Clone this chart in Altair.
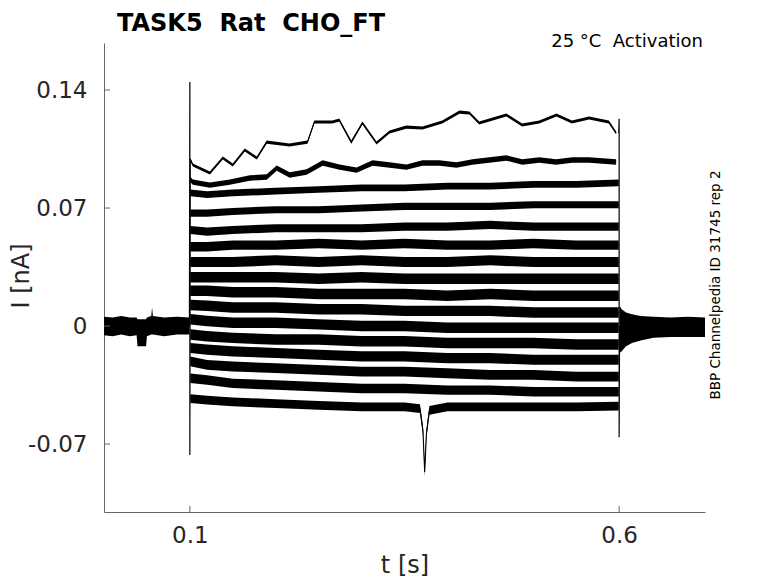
import altair as alt
import pandas as pd

# ---------------- data ----------------
X_TICKS = [0.1, 0.6]
Y_TICKS = [-0.07, 0.0, 0.07, 0.14]
X_DOMAIN = [0.0, 0.7]
Y_DOMAIN = [-0.1103, 0.1679]

# trace 1 (largest step), read point by point
T1 = [0.1005, 0.1035, 0.1233, 0.1384, 0.150, 0.164, 0.178, 0.1895, 0.216, 0.237, 0.245,
      0.266, 0.274, 0.288, 0.301, 0.3174, 0.3326, 0.352, 0.371, 0.394, 0.414, 0.4256,
      0.437, 0.4686, 0.487, 0.507, 0.527, 0.545, 0.565, 0.588, 0.5965]
V1 = [0.0990, 0.0955, 0.0908, 0.0997, 0.0955, 0.1044, 0.0997, 0.1091, 0.1074, 0.1091, 0.1210,
      0.1210, 0.1222, 0.1091, 0.1204, 0.1086, 0.1151, 0.1180, 0.1175, 0.1210, 0.1269, 0.1264,
      0.1204, 0.1252, 0.1192, 0.1210, 0.1252, 0.1210, 0.1234, 0.1210, 0.1145]

# trace 2
T2 = [0.1005, 0.1035, 0.1233, 0.1465, 0.1698, 0.1895, 0.2012, 0.2163, 0.2360, 0.2547, 0.2744,
      0.2942, 0.3128, 0.3326, 0.3523, 0.3709, 0.3907, 0.4105, 0.4291, 0.4488, 0.4686, 0.4872,
      0.5070, 0.5267, 0.5453, 0.5651, 0.5965]
V2 = [0.0870, 0.0854, 0.0836, 0.0854, 0.0878, 0.0884, 0.0937, 0.0896, 0.0914, 0.0967, 0.0943,
      0.0925, 0.0967, 0.0955, 0.0943, 0.0967, 0.0967, 0.0955, 0.0973, 0.0985, 0.0997, 0.0973,
      0.0985, 0.0973, 0.0985, 0.0985, 0.0973]

# traces 3..15 on a common time grid
T_STEP = [0.1005, 0.12, 0.15, 0.2, 0.25, 0.3, 0.35, 0.4, 0.45, 0.5, 0.55, 0.5995]
TRACE3 = [0.079, 0.078, 0.079, 0.080, 0.081, 0.082, 0.082, 0.083, 0.083, 0.084, 0.084, 0.085]
TRACE4 = [0.067, 0.067, 0.068, 0.069, 0.069, 0.070, 0.071, 0.071, 0.071, 0.072, 0.072, 0.072]
TRACE5 = [0.057, 0.056, 0.057, 0.058, 0.058, 0.058, 0.059, 0.059, 0.060, 0.059, 0.059, 0.059]
TRACE6 = [0.047, 0.047, 0.048, 0.048, 0.049, 0.048, 0.049, 0.048, 0.048, 0.049, 0.048, 0.048]
TRACE7 = [0.038, 0.038, 0.038, 0.039, 0.038, 0.039, 0.038, 0.038, 0.039, 0.038, 0.038, 0.038]
TRACE8 = [0.029, 0.029, 0.029, 0.029, 0.028, 0.029, 0.028, 0.028, 0.028, 0.028, 0.028, 0.028]
TRACE9 = [0.021, 0.021, 0.020, 0.020, 0.019, 0.019, 0.019, 0.018, 0.019, 0.018, 0.018, 0.018]
TRACE10 = [0.0125, 0.012, 0.011, 0.011, 0.010, 0.010, 0.009, 0.009, 0.009, 0.008, 0.008, 0.008]
TRACE11 = [0.004, 0.003, 0.002, 0.002, 0.001, 0.000, 0.000, -0.001, -0.001, -0.001, -0.001, -0.001]
TRACE12 = [-0.005, -0.006, -0.007, -0.008, -0.008, -0.009, -0.009, -0.010, -0.010, -0.010, -0.011, -0.011]
TRACE13 = [-0.013, -0.014, -0.015, -0.016, -0.017, -0.018, -0.018, -0.019, -0.019, -0.020, -0.020, -0.020]
TRACE14 = [-0.021, -0.023, -0.024, -0.025, -0.026, -0.027, -0.027, -0.028, -0.029, -0.029, -0.030, -0.030]
TRACE15 = [-0.031, -0.032, -0.034, -0.035, -0.036, -0.037, -0.037, -0.038, -0.038, -0.039, -0.039, -0.039]

# trace 16 (most negative step) with its downward glitch
T16 = [0.1005, 0.12, 0.15, 0.2, 0.25, 0.3, 0.35, 0.368, 0.3715, 0.3735, 0.3755, 0.379,
       0.4, 0.45, 0.5, 0.55, 0.5995]
V16 = [-0.043, -0.044, -0.045, -0.046, -0.047, -0.048, -0.048, -0.049, -0.062, -0.0866, -0.064, -0.050,
       -0.048, -0.048, -0.048, -0.048, -0.0475]

# noise half-width of each trace (nA)
NOISE = [0.0009, 0.0016, 0.0020, 0.0021, 0.0024, 0.0028, 0.0030, 0.0031, 0.0031, 0.0031,
         0.0031, 0.0031, 0.0030, 0.0029, 0.0028, 0.0026]

# holding-current baseline before and after the step
PRE_T = [0.0, 0.01, 0.02, 0.03, 0.038, 0.039, 0.049, 0.05, 0.055, 0.056, 0.057, 0.07, 0.085, 0.0995]
PRE_LO = [-0.0055, -0.006, -0.005, -0.006, -0.0055, -0.012, -0.012, -0.006, -0.005, -0.005, -0.005,
          -0.006, -0.005, -0.005]
PRE_HI = [0.0055, 0.005, 0.006, 0.005, 0.005, 0.004, 0.004, 0.005, 0.006, 0.011, 0.006, 0.005,
          0.0055, 0.005]
POST_T = [0.6005, 0.603, 0.608, 0.615, 0.625, 0.64, 0.66, 0.68, 0.7]
POST_LO = [-0.016, -0.015, -0.012, -0.010, -0.0085, -0.007, -0.0065, -0.0065, -0.0065]
POST_HI = [0.012, 0.010, 0.008, 0.007, 0.006, 0.0055, 0.005, 0.0055, 0.005]

# capacitive transients at step on/off
SPIKE_ON_T = [0.0995, 0.1, 0.1, 0.1005]
SPIKE_ON_V = [0.0, 0.1447, -0.0765, 0.0990]
SPIKE_OFF_T = [0.5995, 0.6, 0.6, 0.6005]
SPIKE_OFF_V = [0.1145, 0.1230, -0.0660, 0.0]

TITLE = "TASK5\u00a0\u00a0Rat\u00a0\u00a0CHO_FT"
Y_TITLE = "I [nA]"
X_TITLE = "t [s]"
NOTE_TOP = "25 °C\u00a0\u00a0Activation"
NOTE_SIDE = "BBP Channelpedia ID 31745 rep 2"

# ---------------- tables ----------------
rows = []
series = [(T1, V1), (T2, V2)]
for arr in [TRACE3, TRACE4, TRACE5, TRACE6, TRACE7, TRACE8, TRACE9, TRACE10,
            TRACE11, TRACE12, TRACE13, TRACE14, TRACE15]:
    series.append((T_STEP, arr))
series.append((T16, V16))
for i, (ts, vs) in enumerate(series):
    hw = NOISE[i]
    for t, v in zip(ts, vs):
        rows.append({"trace": i + 1, "t": t, "v": v, "lo": v - hw, "hi": v + hw})
traces = pd.DataFrame(rows)

base_rows = []
for t, lo, hi in zip(PRE_T, PRE_LO, PRE_HI):
    base_rows.append({"seg": "pre", "t": t, "lo": lo, "hi": hi})
for t, lo, hi in zip(POST_T, POST_LO, POST_HI):
    base_rows.append({"seg": "post", "t": t, "lo": lo, "hi": hi})
base = pd.DataFrame(base_rows)

spk_rows = []
for k, (t, v) in enumerate(zip(SPIKE_ON_T, SPIKE_ON_V)):
    spk_rows.append({"spike": "on", "k": k, "t": t, "v": v})
for k, (t, v) in enumerate(zip(SPIKE_OFF_T, SPIKE_OFF_V)):
    spk_rows.append({"spike": "off", "k": k, "t": t, "v": v})
spikes = pd.DataFrame(spk_rows)

# ---------------- chart ----------------
W, H = 601, 469
FONT = "DejaVu Sans"

xscale = alt.Scale(domain=X_DOMAIN, nice=False, zero=False)
yscale = alt.Scale(domain=Y_DOMAIN, nice=False, zero=False)

x_axis = alt.Axis(values=X_TICKS, format=".1f", ticks=False, grid=False, labelPadding=12,
                  title=X_TITLE, titlePadding=6)
y_axis = alt.Axis(values=Y_TICKS, ticks=False, grid=False, labelPadding=17,
                  labelExpr="datum.value == 0 ? '0' : (datum.value < 0 ? '-' + format(-datum.value, '.2f') : format(datum.value, '.2f'))",
                  title=None)

bands = alt.Chart(traces).mark_area(color="black", interpolate="linear").encode(
    x=alt.X("t:Q", scale=xscale, axis=x_axis),
    y=alt.Y("lo:Q", scale=yscale, axis=y_axis, stack=None),
    y2="hi:Q",
    detail="trace:N",
)
lines = alt.Chart(traces).mark_line(color="black", strokeWidth=1.1).encode(
    x="t:Q", y="v:Q", detail="trace:N", order="t:Q"
)
baseline = alt.Chart(base).mark_area(color="black").encode(
    x="t:Q", y=alt.Y("lo:Q", stack=None), y2="hi:Q", detail="seg:N"
)
spike_lines = alt.Chart(spikes).mark_line(color="black", strokeWidth=1.2).encode(
    x="t:Q", y="v:Q", detail="spike:N", order="k:Q"
)
xticks = alt.Chart(pd.DataFrame({"x": X_TICKS})).mark_rule(color="#666666", strokeWidth=1).encode(
    x="x:Q", y=alt.value(H), y2=alt.value(H - 6)
)
yticks = alt.Chart(pd.DataFrame({"y": Y_TICKS})).mark_rule(color="#666666", strokeWidth=1).encode(
    y="y:Q", x=alt.value(0), x2=alt.value(6)
)
title_txt = alt.Chart(pd.DataFrame({"s": [TITLE]})).mark_text(
    font=FONT, fontSize=24, fontWeight="bold", align="left", baseline="alphabetic", color="black"
).encode(text="s:N", x=alt.value(13), y=alt.value(-12.5))
ytitle_txt = alt.Chart(pd.DataFrame({"s": [Y_TITLE]})).mark_text(
    font=FONT, fontSize=24, align="center", baseline="middle", angle=270, color="#262626"
).encode(text="s:N", x=alt.value(-82), y=alt.value(233))
note_top = alt.Chart(pd.DataFrame({"s": [NOTE_TOP]})).mark_text(
    font=FONT, fontSize=18, align="right", baseline="alphabetic", color="black"
).encode(text="s:N", x=alt.value(599), y=alt.value(4))
note_side = alt.Chart(pd.DataFrame({"s": [NOTE_SIDE]})).mark_text(
    font=FONT, fontSize=13.5, align="center", baseline="middle", angle=270, color="black"
).encode(text="s:N", x=alt.value(612), y=alt.value(242))

chart = alt.layer(
    baseline, bands, lines, spike_lines, xticks, yticks, title_txt, ytitle_txt, note_top, note_side
).properties(
    width=W, height=H,
    autosize=alt.AutoSizeParams(type="none"),
    padding={"left": 96, "top": 35, "right": 65, "bottom": 65},
).configure_view(stroke=None).configure_axis(
    domainColor="#666666", domainWidth=1,
    labelFont=FONT, labelFontSize=23, labelColor="#262626",
    titleFont=FONT, titleFontSize=24, titleFontWeight="normal", titleColor="#262626",
)

chart.save("out.html", embed_options={"renderer": "svg", "actions": False})
